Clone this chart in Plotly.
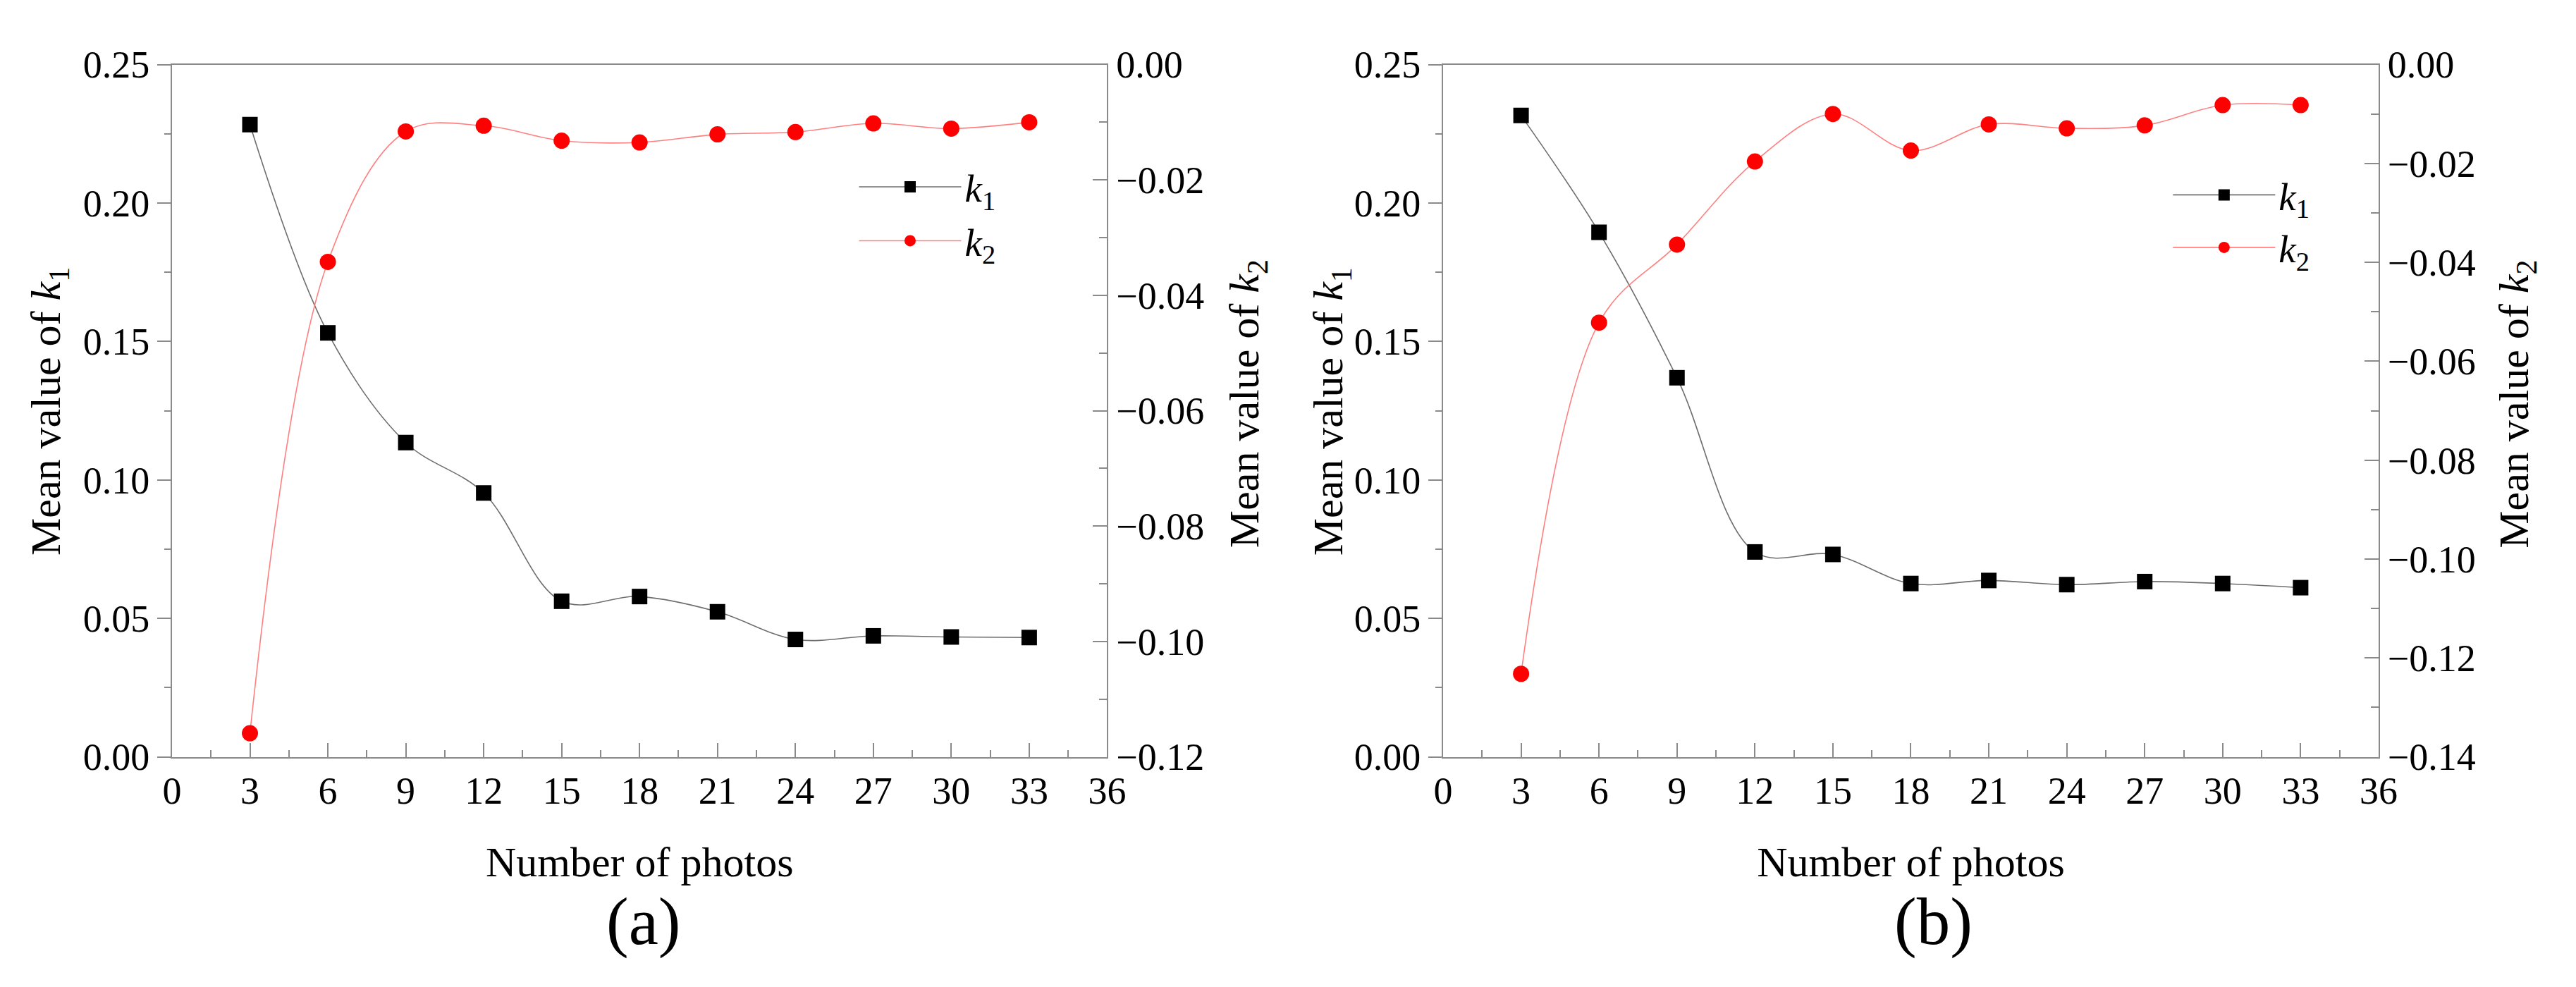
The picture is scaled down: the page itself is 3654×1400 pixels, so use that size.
import plotly.graph_objects as go

photos = [3, 6, 9, 12, 15, 18, 21, 24, 27, 30, 33]

k1_a = [0.2283, 0.1531, 0.1135, 0.0953, 0.0562, 0.0579, 0.0524, 0.0424, 0.0437, 0.0433, 0.0431]
k2_a = [-0.1159, -0.0342, -0.0116, -0.0106, -0.0132, -0.0135, -0.0121, -0.0117, -0.0102, -0.0111, -0.0100]

k1_b = [0.2316, 0.1894, 0.1369, 0.0740, 0.0731, 0.0626, 0.0637, 0.0622, 0.0633, 0.0626, 0.0611]
k2_b = [-0.1232, -0.0522, -0.0364, -0.0196, -0.0100, -0.0174, -0.0121, -0.0129, -0.0123, -0.0082, -0.0082]

x_ticks = [0, 3, 6, 9, 12, 15, 18, 21, 24, 27, 30, 33, 36]

W, H = 3654, 1400
FONT = 'Liberation Serif, Times New Roman, serif'
AXIS_GREY = '#8a8a8a'

# plot area in pixels (left, right) for the two panels, same top/bottom
panels = [(224.5, 1566), (2048, 3390)]
top_px, bottom_px = 57, 1083


def px_x(p):
    return p / W


def px_y(p):
    return 1 - p / H


fig = go.Figure()

series = [
    ('x', 'y', 'y2', k1_a, k2_a, 'legend'),
    ('x2', 'y3', 'y4', k1_b, k2_b, 'legend2'),
]

for xa, ya_left, ya_right, k1, k2, leg in series:
    fig.add_trace(go.Scatter(
        x=photos, y=k1, xaxis=xa, yaxis=ya_left,
        mode='lines+markers', name='<i>k</i><sub>1</sub>', legend=leg, legendgroup=leg + 'k1',
        line=dict(color='#6e6e6e', width=1.6, shape='spline', smoothing=1),
        marker=dict(symbol='square', size=22, color='black'),
    ))
    fig.add_trace(go.Scatter(
        x=photos, y=k2, xaxis=xa, yaxis=ya_right,
        mode='lines+markers', name='<i>k</i><sub>2</sub>', legend=leg, legendgroup=leg + 'k2',
        line=dict(color='#ff8080', width=1.6, shape='spline', smoothing=1),
        marker=dict(symbol='circle', size=23, color='red'),
    ))

tick_font = dict(family=FONT, size=54, color='black')

x_common = dict(
    range=[0, 36], tickvals=x_ticks, ticks='inside', ticklen=20, tickwidth=2,
    tickcolor=AXIS_GREY, showline=True, linecolor=AXIS_GREY, linewidth=2,
    mirror=True, showgrid=False, zeroline=False, tickfont=tick_font,
    minor=dict(dtick=1.5, ticks='inside', ticklen=10, tickwidth=2, tickcolor=AXIS_GREY),
    title=dict(text='Number of photos', font=dict(family=FONT, size=60, color='black'), standoff=50),
)

y_left = dict(
    range=[0, 0.25], dtick=0.05, tickformat='.2f', ticks='outside', ticklen=19, tickwidth=2,
    tickcolor=AXIS_GREY, showline=True, linecolor=AXIS_GREY, linewidth=2,
    showgrid=False, zeroline=False, tickfont=tick_font,
    minor=dict(dtick=0.025, ticks='outside', ticklen=9, tickwidth=2, tickcolor=AXIS_GREY),
)

y_right = dict(
    dtick=0.02, tickformat='.2f', ticks='inside', ticklen=20, tickwidth=2,
    tickcolor=AXIS_GREY, showline=True, linecolor=AXIS_GREY, linewidth=2,
    showgrid=False, zeroline=False, tickfont=tick_font, side='right',
    minor=dict(dtick=0.01, ticks='inside', ticklen=11, tickwidth=2, tickcolor=AXIS_GREY),
)

y_dom = [px_y(bottom_px), px_y(top_px)]

legend_common = dict(
    xanchor='left', yanchor='top', font=dict(family=FONT, size=55, color='black'),
    itemwidth=145, bgcolor='rgba(0,0,0,0)',
)

fig.update_layout(
    width=W, height=H,
    margin=dict(l=0, r=0, t=0, b=0),
    paper_bgcolor='white', plot_bgcolor='white',
    font=dict(family=FONT, color='black'),
    xaxis=dict(x_common, domain=[px_x(panels[0][0]), px_x(panels[0][1])], anchor='y'),
    xaxis2=dict(x_common, domain=[px_x(panels[1][0]), px_x(panels[1][1])], anchor='y3'),
    yaxis=dict(y_left, domain=y_dom, anchor='x'),
    yaxis2=dict(y_right, range=[-0.12, 0], overlaying='y', anchor='x'),
    yaxis3=dict(y_left, domain=y_dom, anchor='x2'),
    yaxis4=dict(y_right, range=[-0.14, 0], overlaying='y3', anchor='x2'),
    legend=dict(legend_common, x=px_x(1205), y=px_y(194), tracegroupgap=2),
    legend2=dict(legend_common, x=px_x(3090), y=px_y(206), tracegroupgap=0),
)

title_font = dict(family=FONT, size=60, color='black')
label_font = dict(family=FONT, size=95, color='black')

annotations = [
    (48, 571, 'Mean value of <i>k</i><sub>1</sub>', title_font, -90),
    (1767, 560, 'Mean value of <i>k</i><sub>2</sub>', title_font, -90),
    (1888, 571, 'Mean value of <i>k</i><sub>1</sub>', title_font, -90),
    (3588, 560, 'Mean value of <i>k</i><sub>2</sub>', title_font, -90),
    (901, 1327, '(a)', label_font, 0),
    (2751, 1327, '(b)', label_font, 0),
]
for ax_px, ay_px, text, fnt, angle in annotations:
    fig.add_annotation(
        x=px_x(ax_px), y=px_y(ay_px), xref='paper', yref='paper',
        text=text, showarrow=False, font=fnt, textangle=angle,
        xanchor='center', yanchor='middle',
    )

fig.write_html("out.html")
